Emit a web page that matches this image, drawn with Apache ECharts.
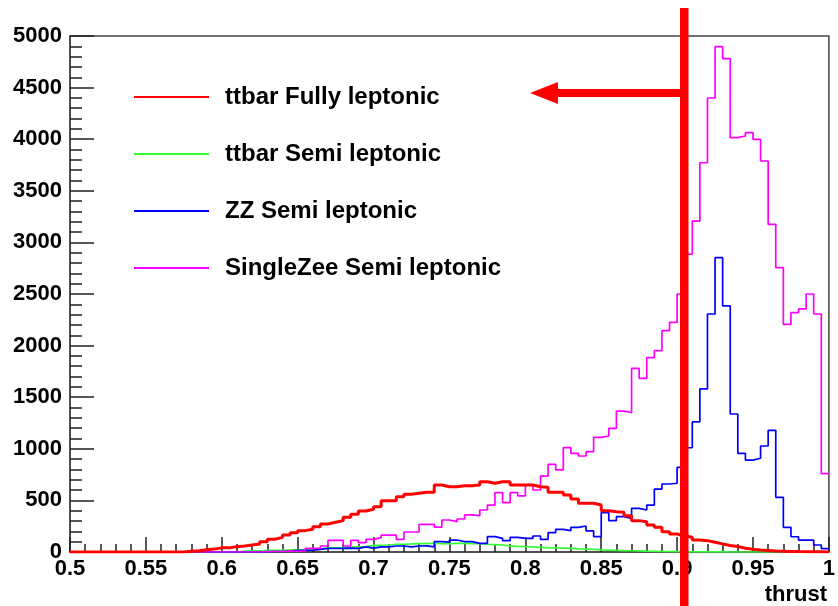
<!DOCTYPE html>
<html>
<head>
<meta charset="utf-8">
<script src="https://cdn.jsdelivr.net/npm/echarts@6/dist/echarts.min.js"></script>
<style>
  html, body { margin: 0; padding: 0; background: #fff; }
  #chart { width: 838px; height: 606px; }
</style>
</head>
<body>
<div id="chart"></div>
<script>
// histogram binning: 100 bins of 0.005 from 0.5 to 1
var binStart = 0.5;
var binWidth = 0.005;

var ttbarFully = [
  0, 0, 0, 0, 0, 0, 0, 0, 0, 0,
  0, 0, 0, 0, 0, 8, 12, 22, 28, 40,
  40, 52, 58, 68, 78, 100, 123, 142, 165, 187,
  207, 220, 245, 271, 288, 304, 336, 365, 397, 414,
  439, 497, 497, 536, 559, 569, 578, 578, 649, 633,
  633, 643, 643, 649, 681, 666, 681, 681, 649, 649,
  649, 633, 627, 578, 578, 552, 514, 472, 472, 455,
  400, 391, 385, 352, 304, 294, 262, 239, 197, 174,
  155, 142, 116, 110, 95, 79, 63, 53, 36, 27,
  20, 15, 10, 8, 6, 4, 3, 2, 2, 1
];
var ttbarSemi = [
  0, 0, 0, 0, 0, 0, 0, 0, 0, 0,
  0, 0, 0, 0, 0, 0, 0, 0, 0, 0,
  0, 0, 8, 10, 12, 15, 15, 15, 20, 20,
  22, 30, 30, 40, 40, 42, 50, 50, 52, 65,
  65, 68, 75, 75, 78, 82, 82, 85, 80, 82,
  84, 84, 82, 80, 75, 72, 68, 60, 55, 52,
  50, 45, 42, 40, 38, 35, 30, 28, 25, 20,
  18, 15, 13, 12, 10, 8, 7, 5, 4, 3,
  2, 2, 1, 1, 1, 1, 0, 0, 0, 0,
  0, 0, 0, 0, 0, 0, 0, 0, 0, 0
];
var zzSemi = [
  0, 0, 0, 0, 0, 0, 0, 0, 0, 0,
  0, 0, 0, 0, 0, 0, 0, 0, 0, 0,
  0, 0, 0, 0, 0, 3, 5, 5, 8, 15,
  15, 18, 25, 35, 35, 35, 38, 35, 50, 38,
  50, 50, 58, 58, 50, 58, 60, 50, 100, 95,
  116, 100, 100, 84, 84, 149, 132, 110, 142, 132,
  132, 155, 123, 187, 220, 207, 239, 252, 204, 149,
  381, 304, 342, 326, 423, 407, 455, 610, 659, 666,
  820, 1010, 1260, 1580, 2306, 2852, 2384, 1337, 956, 891,
  908, 1027, 1179, 530, 239, 148, 116, 116, 68, 32
];
var singleZee = [
  0, 0, 0, 0, 0, 0, 0, 0, 0, 0,
  0, 0, 0, 0, 0, 0, 0, 0, 0, 0,
  0, 0, 0, 0, 0, 3, 5, 5, 10, 5,
  10, 35, 35, 58, 113, 113, 58, 113, 90, 122,
  139, 164, 164, 122, 194, 194, 268, 268, 242, 310,
  294, 320, 359, 352, 407, 455, 575, 478, 575, 543,
  649, 601, 736, 850, 795, 1011, 956, 930, 972, 1111,
  1124, 1198, 1366, 1350, 1780, 1683, 1883, 1951, 2145, 2226,
  2500, 2885, 3207, 3772, 4399, 4897, 4780, 4015, 4031, 4063,
  3999, 3789, 3175, 2755, 2206, 2319, 2355, 2500, 2306, 759
];

var seriesNames = ['ttbar Fully leptonic', 'ttbar Semi leptonic', 'ZZ Semi leptonic', 'SingleZee Semi leptonic'];

// step points at bin left edges, closing point at the last right edge
function toSteps(vals) {
  var pts = vals.map(function (v, i) {
    return [+(binStart + i * binWidth).toFixed(3), v];
  });
  pts.push([+(binStart + vals.length * binWidth).toFixed(3), vals[vals.length - 1]]);
  return pts;
}

var font = 'Liberation Sans, Arial, sans-serif';

function histo(name, vals, color, width, z) {
  return {
    name: name,
    type: 'line',
    step: 'end',
    symbol: 'none',
    z: z,
    lineStyle: { color: color, width: width },
    itemStyle: { color: color },
    data: toSteps(vals)
  };
}

var chart = echarts.init(document.getElementById('chart'));
chart.setOption({
  animation: false,
  backgroundColor: '#fff',
  grid: {
    left: 70, right: 6, top: 36, bottom: 54,
    show: true, borderColor: '#444', borderWidth: 1.5
  },
  legend: {
    orient: 'vertical',
    left: 133,
    top: 85,
    padding: 0,
    itemWidth: 75,
    itemHeight: 14,
    itemGap: 33,
    itemStyle: { opacity: 0 },
    data: seriesNames,
    textStyle: {
      fontFamily: font, fontWeight: 'bold', fontSize: 24, color: '#000',
      padding: [0, 0, 0, 11]
    }
  },
  xAxis: {
    type: 'value',
    min: 0.5,
    max: 1,
    interval: 0.05,
    axisLine: { lineStyle: { color: '#444', width: 1.5 } },
    axisTick: { inside: true, length: 15, lineStyle: { color: '#222', width: 1.5 } },
    minorTick: { show: true, splitNumber: 5, length: 8, lineStyle: { color: '#222', width: 1.5 } },
    splitLine: { show: false },
    axisLabel: {
      margin: 6, color: '#000', fontFamily: font, fontWeight: 'bold', fontSize: 22,
      formatter: function (v) { return String(+v.toFixed(2)); }
    }
  },
  yAxis: {
    type: 'value',
    min: 0,
    max: 5000,
    interval: 500,
    axisLine: { show: true, lineStyle: { color: '#444', width: 1.5 } },
    axisTick: { show: true, inside: true, length: 24, lineStyle: { color: '#222', width: 1.5 } },
    minorTick: { show: true, splitNumber: 5, length: 12, lineStyle: { color: '#222', width: 1.5 } },
    splitLine: { show: false },
    axisLabel: {
      margin: 8, color: '#000', fontFamily: font, fontWeight: 'bold', fontSize: 22,
      formatter: function (v) { return String(v); }
    }
  },
  graphic: [
    {
      type: 'text', right: 11, top: 584, z: 10,
      style: { text: 'thrust', font: 'bold 22px ' + font, fill: '#000' }
    },
    { type: 'rect', z: 100, shape: { x: 680, y: 8, width: 8.5, height: 600 }, style: { fill: '#ff0000' } },
    { type: 'rect', z: 100, shape: { x: 552, y: 89, width: 130, height: 8 }, style: { fill: '#ff0000' } },
    {
      type: 'polygon', z: 100,
      shape: { points: [[530, 93], [558, 82], [558, 104]] },
      style: { fill: '#ff0000' }
    }
  ],
  series: [
    histo(seriesNames[1], ttbarSemi, '#33ff33', 1.7, 2),
    histo(seriesNames[2], zzSemi, '#0000ff', 1.7, 3),
    histo(seriesNames[3], singleZee, '#ff00ff', 1.7, 4),
    histo(seriesNames[0], ttbarFully, '#ff0000', 3, 5)
  ]
});
</script>
</body>
</html>
